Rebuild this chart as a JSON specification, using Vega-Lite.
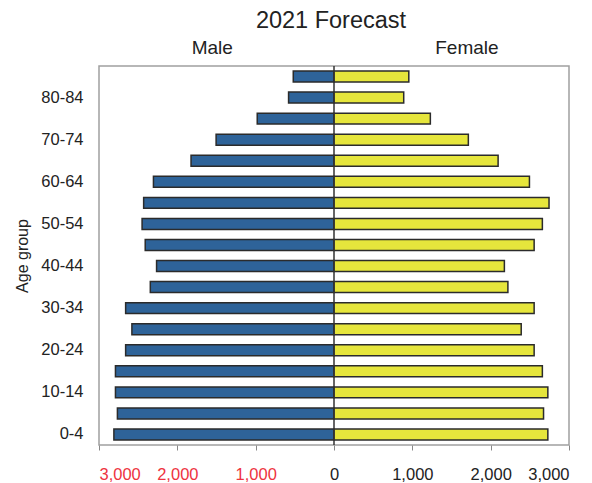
{
  "$schema": "https://vega.github.io/schema/vega-lite/v6.json",
  "width": 470,
  "height": 379,
  "autosize": {"type": "none"},
  "padding": {"left": 99, "top": 66, "right": 23, "bottom": 38},
  "config": {"font": "Liberation Sans", "view": {"stroke": "#a0a0a0", "strokeWidth": 1.5}},
  "title": {"text": "2021 Forecast", "fontSize": 23.5, "fontWeight": "normal", "color": "#222", "offset": 6, "dx": -3},
  "layer": [
    {
      "data": {"values": [
        {"age": "85+", "sex": "Male", "pop": 520}, {"age": "85+", "sex": "Female", "pop": 955},
        {"age": "80-84", "sex": "Male", "pop": 580}, {"age": "80-84", "sex": "Female", "pop": 890},
        {"age": "75-79", "sex": "Male", "pop": 980}, {"age": "75-79", "sex": "Female", "pop": 1230},
        {"age": "70-74", "sex": "Male", "pop": 1505}, {"age": "70-74", "sex": "Female", "pop": 1715},
        {"age": "65-69", "sex": "Male", "pop": 1825}, {"age": "65-69", "sex": "Female", "pop": 2095},
        {"age": "60-64", "sex": "Male", "pop": 2305}, {"age": "60-64", "sex": "Female", "pop": 2495},
        {"age": "55-59", "sex": "Male", "pop": 2430}, {"age": "55-59", "sex": "Female", "pop": 2745},
        {"age": "50-54", "sex": "Male", "pop": 2450}, {"age": "50-54", "sex": "Female", "pop": 2660},
        {"age": "45-49", "sex": "Male", "pop": 2410}, {"age": "45-49", "sex": "Female", "pop": 2555},
        {"age": "40-44", "sex": "Male", "pop": 2265}, {"age": "40-44", "sex": "Female", "pop": 2175},
        {"age": "35-39", "sex": "Male", "pop": 2345}, {"age": "35-39", "sex": "Female", "pop": 2220},
        {"age": "30-34", "sex": "Male", "pop": 2660}, {"age": "30-34", "sex": "Female", "pop": 2555},
        {"age": "25-29", "sex": "Male", "pop": 2580}, {"age": "25-29", "sex": "Female", "pop": 2390},
        {"age": "20-24", "sex": "Male", "pop": 2660}, {"age": "20-24", "sex": "Female", "pop": 2555},
        {"age": "15-19", "sex": "Male", "pop": 2790}, {"age": "15-19", "sex": "Female", "pop": 2660},
        {"age": "10-14", "sex": "Male", "pop": 2790}, {"age": "10-14", "sex": "Female", "pop": 2730},
        {"age": "5-9", "sex": "Male", "pop": 2765}, {"age": "5-9", "sex": "Female", "pop": 2675},
        {"age": "0-4", "sex": "Male", "pop": 2810}, {"age": "0-4", "sex": "Female", "pop": 2730}
      ]},
      "transform": [{"calculate": "datum.sex === 'Male' ? -datum.pop : datum.pop", "as": "x"}],
      "mark": {"type": "bar", "stroke": "#2b2b2b", "strokeWidth": 1.5},
      "encoding": {
        "y": {
          "field": "age", "type": "nominal",
          "sort": ["85+", "80-84", "75-79", "70-74", "65-69", "60-64", "55-59", "50-54", "45-49", "40-44", "35-39", "30-34", "25-29", "20-24", "15-19", "10-14", "5-9", "0-4"],
          "scale": {"paddingInner": 0.48, "paddingOuter": 0.24},
          "axis": {
            "title": "Age group", "values": ["80-84", "70-74", "60-64", "50-54", "40-44", "30-34", "20-24", "10-14", "0-4"],
            "ticks": false, "domain": false, "labelFontSize": 16.5, "labelColor": "#222", "labelPadding": 16,
            "titleFontSize": 16, "titleFontWeight": "normal", "titleColor": "#222", "titlePadding": 10
          }
        },
        "x": {
          "field": "x", "type": "quantitative",
          "scale": {"domain": [-3000, 3000], "nice": false},
          "axis": {
            "title": null, "values": [-3000, -2000, -1000, 0, 1000, 2000, 3000],
            "labelExpr": "format(abs(datum.value), ',')",
            "labelColor": {"condition": {"test": "datum.value < 0", "value": "#ee3340"}, "value": "#222"},
            "labelFontSize": 16.5, "tickColor": "#888", "tickSize": 5, "labelPadding": 16, "grid": false, "domain": false
          }
        },
        "color": {"field": "sex", "type": "nominal", "scale": {"domain": ["Male", "Female"], "range": ["#2e6399", "#e6e63c"]}, "legend": null}
      }
    },
    {
      "data": {"values": [{"v": 0}]},
      "mark": {"type": "rule", "color": "#333", "strokeWidth": 1.5},
      "encoding": {
        "x": {
          "field": "v", "type": "quantitative",
          "axis": {
            "orient": "top", "title": null, "values": [-1560, 1690],
            "labelExpr": "datum.value < 0 ? 'Male' : 'Female'",
            "ticks": false, "domain": false, "grid": false, "labelFontSize": 19, "labelColor": "#222", "labelPadding": 9
          }
        }
      }
    }
  ],
  "resolve": {"axis": {"x": "independent"}}
}
